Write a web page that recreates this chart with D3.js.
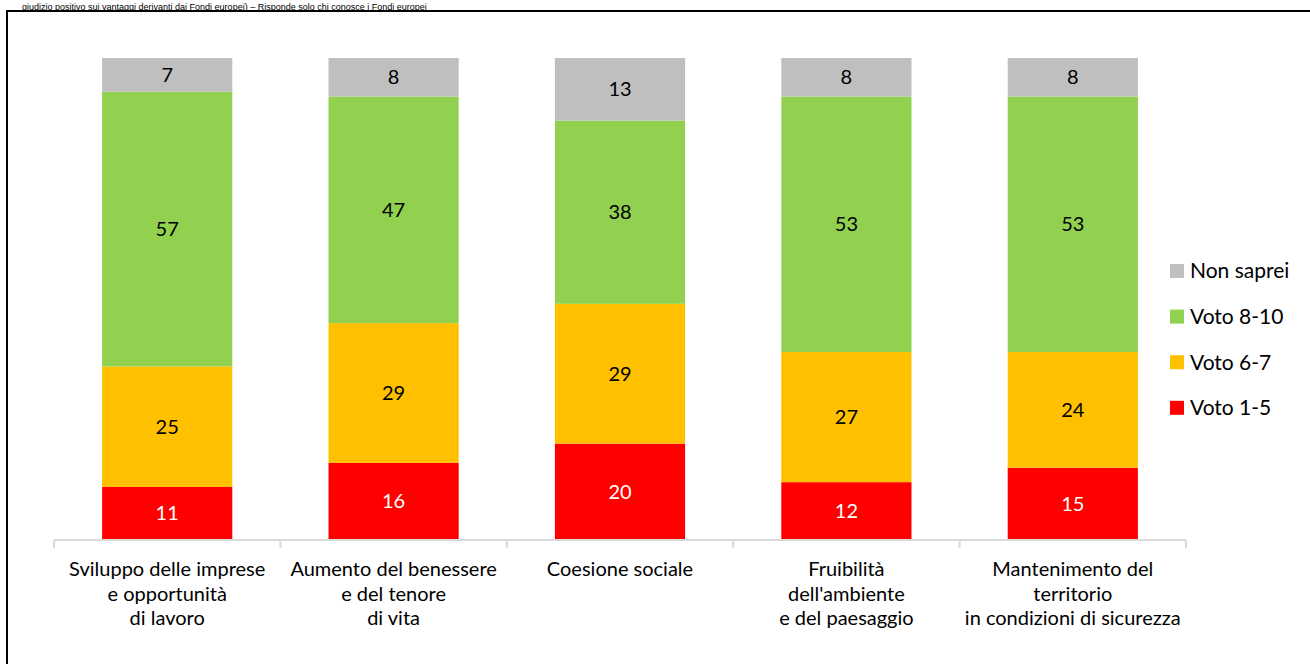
<!DOCTYPE html>
<html>
<head>
<meta charset="utf-8">
<script src="https://cdn.jsdelivr.net/npm/d3@7"></script>
<style>
  body { margin: 0; background: #fff; }
  svg { display: block; font-family: Lato, "Liberation Sans", sans-serif; }
</style>
</head>
<body>
<div id="chart"></div>
<script>
// Data
const categories = [
  ['Sviluppo delle imprese', 'e opportunità', 'di lavoro'],
  ['Aumento del benessere', 'e del tenore', 'di vita'],
  ['Coesione sociale'],
  ['Fruibilità', "dell'ambiente", 'e del paesaggio'],
  ['Mantenimento del', 'territorio', 'in condizioni di sicurezza']
];
const seriesNames = ['Voto 1-5', 'Voto 6-7', 'Voto 8-10', 'Non saprei'];
const seriesColors = ['#ff0000', '#ffc000', '#92d050', '#bfbfbf'];
const voto15 = [11, 16, 20, 12, 15];
const voto67 = [25, 29, 29, 27, 24];
const voto810 = [57, 47, 38, 53, 53];
const nonSaprei = [7, 8, 13, 8, 8];
const titleText = 'giudizio positivo sui vantaggi derivanti dai Fondi europei) \u2013 Risponde solo chi conosce i Fondi europei';

const W = 1310, H = 664;
const svg = d3.select('#chart').append('svg')
  .attr('width', W)
  .attr('height', H);

// Title line above the frame
svg.append('text')
  .attr('x', 22)
  .attr('y', 9.5)
  .attr('font-family', '"Liberation Sans", sans-serif')
  .attr('font-size', '9px')
  .attr('fill', '#000')
  .text(titleText);

svg.append('rect')
  .attr('x', 7)
  .attr('y', 11)
  .attr('width', W + 10)
  .attr('height', H + 10)
  .attr('fill', 'none')
  .attr('stroke', '#000')
  .attr('stroke-width', 2);

// Scales
const keys = categories.map((d, i) => i);
const x = d3.scaleBand()
  .domain(keys)
  .range([54, 1186])
  .paddingInner(0.425)
  .paddingOuter(0.2125);

const y = d3.scaleLinear()
  .domain([0, 100])
  .range([540, 58]);

const rows = keys.map(i => ({
  i,
  s0: voto15[i], s1: voto67[i], s2: voto810[i], s3: nonSaprei[i]
}));
const stack = d3.stack().keys(['s0', 's1', 's2', 's3']);
const layers = stack(rows);

// Bars
const layerG = svg.selectAll('g.layer')
  .data(layers)
  .join('g')
  .attr('class', 'layer')
  .attr('fill', (d, k) => seriesColors[k]);

layerG.selectAll('rect')
  .data(d => d)
  .join('rect')
  .attr('x', d => x(d.data.i))
  .attr('y', d => y(d[1]))
  .attr('width', x.bandwidth())
  .attr('height', d => y(d[0]) - y(d[1]));

// Value labels
layers.forEach((layer, k) => {
  svg.append('g')
    .selectAll('text')
    .data(layer)
    .join('text')
    .attr('x', d => x(d.data.i) + x.bandwidth() / 2)
    .attr('y', d => (y(d[0]) + y(d[1])) / 2)
    .attr('dy', '0.35em')
    .attr('text-anchor', 'middle')
    .attr('font-size', '20px')
    .attr('fill', k === 0 ? '#fff' : '#000')
    .text(d => d[1] - d[0]);
});

// X axis
const step = x.step();
const edges = d3.range(categories.length + 1).map(i => 54 + i * step);
const axisG = svg.append('g');
axisG.append('line')
  .attr('x1', 54)
  .attr('x2', 1186)
  .attr('y1', y(0))
  .attr('y2', y(0))
  .attr('stroke', '#d9d9d9')
  .attr('stroke-width', 2);
axisG.selectAll('line.tick')
  .data(edges)
  .join('line')
  .attr('class', 'tick')
  .attr('x1', d => d)
  .attr('x2', d => d)
  .attr('y1', y(0))
  .attr('y2', y(0) + 8)
  .attr('stroke', '#d9d9d9')
  .attr('stroke-width', 2);

// Category labels
const catText = svg.append('g')
  .selectAll('text')
  .data(categories)
  .join('text')
  .attr('text-anchor', 'middle')
  .attr('font-size', '20px')
  .attr('fill', '#000')
  .attr('transform', (d, i) => `translate(${x(i) + x.bandwidth() / 2},576)`);
catText.selectAll('tspan')
  .data(d => d)
  .join('tspan')
  .attr('x', 0)
  .attr('y', (d, j) => j * 24.5)
  .text(d => d);

// Legend
const legendOrder = [3, 2, 1, 0];
const legend = svg.append('g')
  .attr('transform', 'translate(1170,264)');
legendOrder.forEach((k, j) => {
  legend.append('rect')
    .attr('x', 0)
    .attr('y', j * 45.6)
    .attr('width', 14)
    .attr('height', 14)
    .attr('fill', seriesColors[k]);
  legend.append('text')
    .attr('x', 20)
    .attr('y', j * 45.6 + 7)
    .attr('dy', '0.35em')
    .attr('font-size', '21px')
    .attr('fill', '#000')
    .text(seriesNames[k]);
});
</script>
</body>
</html>
